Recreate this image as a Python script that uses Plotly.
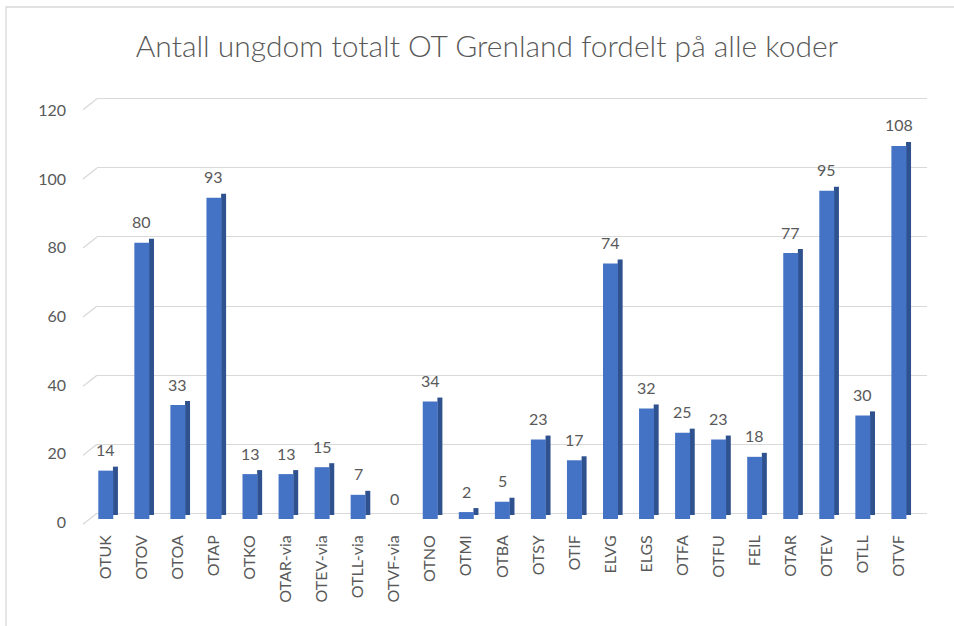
import plotly.graph_objects as go

categories = ["OTUK", "OTOV", "OTOA", "OTAP", "OTKO", "OTAR-via", "OTEV-via", "OTLL-via",
              "OTVF-via", "OTNO", "OTMI", "OTBA", "OTSY", "OTIF", "ELVG", "ELGS", "OTFA",
              "OTFU", "FEIL", "OTAR", "OTEV", "OTLL", "OTVF"]
values = [14, 80, 33, 93, 13, 13, 15, 7, 0, 34, 2, 5, 23, 17, 74, 32, 25, 23, 18, 77, 95, 30, 108]
y_ticks = [0, 20, 40, 60, 80, 100, 120]
title_text = "Antall ungdom totalt OT Grenland fordelt på alle koder"

W, H = 954, 626
L, R, T, B = 66, 27, 95, 98
plot_w = W - L - R
plot_h = H - T - B
PB = H - B  # pixel row of plot-area bottom
px_per_unit = 3.454
px_per_cat = 36.05
x0_px = 97  # start of floor / gridlines
first_center_px = 105.8
front_zero_px = 519
back_zero_px = 513.3
lab_zero_px = 522
lab_slope = 3.427

FONT = "Lato"
TXT = "#595959"
FRONT = "#4472C4"
SIDE = "#2F528F"

depth_units = 4.0 / px_per_unit
front_w = 15 / px_per_cat
side_w = 5.0 / px_per_cat

fig = go.Figure()

# side face of 3D columns
fig.add_trace(go.Bar(
    x=categories, y=values, base=[depth_units] * len(values),
    offset=front_w / 2 - 0.01, width=side_w,
    marker=dict(color=SIDE, line=dict(width=0)),
    hoverinfo="skip", showlegend=False,
))
# front face
fig.add_trace(go.Bar(
    x=categories, y=values,
    offset=-front_w / 2, width=front_w,
    marker=dict(color=FRONT, line=dict(width=0)),
    showlegend=False,
))
# dummy traces so overlay axes render
fig.add_trace(go.Scatter(x=[categories[0]], y=[0], yaxis="y2", mode="markers",
                         marker=dict(opacity=0), hoverinfo="skip", showlegend=False))
fig.add_trace(go.Scatter(x=[categories[0]], y=[0], yaxis="y3", mode="markers",
                         marker=dict(opacity=0), hoverinfo="skip", showlegend=False))

# value labels
for c, v in zip(categories, values):
    fig.add_annotation(x=c, y=v, xref="x", yref="y", text=str(v), showarrow=False,
                       yanchor="middle", yshift=21,
                       font=dict(family=FONT, size=16, color=TXT))

# x range so that category centres land on the bar fronts
dom_x0 = (x0_px - L) / plot_w
r0 = -(first_center_px - x0_px) / px_per_cat
r1 = r0 + (W - R - x0_px) / px_per_cat

y_lo = -(PB - front_zero_px) / px_per_unit
y_range = [y_lo, y_lo + plot_h / px_per_unit]
y2_lo = -(PB - back_zero_px) / px_per_unit
y2_range = [y2_lo, y2_lo + plot_h / px_per_unit]
y3_lo = -(PB - lab_zero_px) / lab_slope
y3_range = [y3_lo, y3_lo + plot_h / lab_slope]


def to_paper_y(px):
    return (PB - px) / plot_h


# slanted wall segments at the left end of the gridlines
shapes = []
for t in y_ticks:
    back_px = back_zero_px - t * px_per_unit
    shapes.append(dict(type="line", xref="paper", yref="paper",
                       x0=(83 - L) / plot_w, y0=to_paper_y(back_px + 11),
                       x1=dom_x0, y1=to_paper_y(back_px),
                       line=dict(color="#D9D9D9", width=1.3), layer="below"))
# chart border
shapes.append(dict(type="rect", xref="paper", yref="paper",
                   x0=(6 - L) / plot_w, y0=to_paper_y(H + 20),
                   x1=(W + 20 - L) / plot_w, y1=to_paper_y(7),
                   line=dict(color="#D9D9D9", width=1.3), fillcolor="rgba(0,0,0,0)",
                   layer="below"))

fig.update_layout(
    width=W, height=H,
    margin=dict(l=L, r=R, t=T, b=B, pad=0),
    paper_bgcolor="white", plot_bgcolor="white",
    barmode="overlay",
    title=dict(text=title_text, x=487 / W, xanchor="center", xref="container",
               y=1 - 46 / H, yanchor="middle", yref="container",
               font=dict(family=FONT, size=30, color=TXT, weight=300)),
    xaxis=dict(type="category", domain=[dom_x0, 1], range=[r0, r1],
               tickangle=-90, showgrid=False, zeroline=False, showline=False,
               ticks="", ticklabelstandoff=3,
               tickfont=dict(family=FONT, size=16, color=TXT)),
    yaxis=dict(range=y_range, showgrid=False, zeroline=False, showticklabels=False,
               showline=False, ticks=""),
    yaxis2=dict(range=y2_range, overlaying="y", anchor="x", tickvals=y_ticks,
                showgrid=True, gridcolor="#D9D9D9", gridwidth=1.3, zeroline=False,
                showticklabels=False, showline=False, ticks=""),
    yaxis3=dict(range=y3_range, overlaying="y", anchor="free", position=0,
                tickvals=y_ticks, showgrid=False, zeroline=False, showline=False,
                ticks="", tickfont=dict(family=FONT, size=16, color=TXT)),
    shapes=shapes,
    font=dict(family=FONT, color=TXT),
)

fig.write_html("out.html", config={"displayModeBar": False},
               post_script="document.body.style.margin='0';")
